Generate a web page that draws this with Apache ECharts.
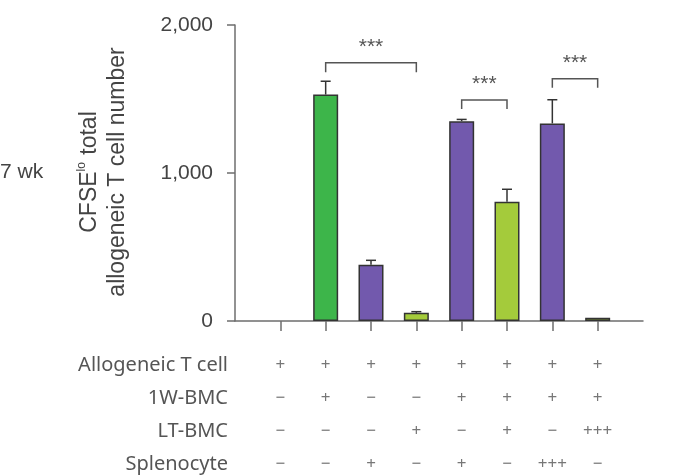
<!DOCTYPE html>
<html>
<head>
<meta charset="utf-8">
<script src="https://cdn.jsdelivr.net/npm/echarts@6/dist/echarts.min.js"></script>
<style>html,body{margin:0;padding:0;background:#fff}#c{width:681px;height:476px}</style>
</head>
<body>
<div id="c"></div>
<script>
// ---- data ----
var groups = ['G1','G2','G3','G4','G5','G6','G7','G8'];
var means  = [0, 1530, 380, 55, 1350, 805, 1335, 22];
var errors = [0, 90, 30, 8, 12, 85, 160, 0];
var barColorKeys = ['none','green','purple','lime','purple','lime','purple','lime'];
var yTicks = [0, 1000, 2000];
// brackets: [from group index, to group index, top value, leg-bottom value]
var brackets = [[1, 3, 1745, 1680], [4, 5, 1493, 1432], [6, 7, 1637, 1576]];
var bracketLabels = ['***', '***', '***'];
var tableRowLabels = ['Allogeneic T cell', '1W-BMC', 'LT-BMC', 'Splenocyte'];
var tableRows = [
  ['+','+','+','+','+','+','+','+'],
  ['−','+','−','−','+','+','+','+'],
  ['−','−','−','+','−','+','−','+++'],
  ['−','−','+','−','+','−','+++','−']
];
var sideLabel = '7 wk';

// ---- styles ----
var palette = {green:'#3db54a', purple:'#7259ad', lime:'#a4cb3b', none:'rgba(0,0,0,0)'};
var axisColor = '#6e6e6e';
var sansH = 'Liberation Sans, Arial, sans-serif';

var cats = [''].concat(groups).concat(['']);
var barData = [null].concat(means.map(function(v,i){
  return {value: v, itemStyle:{color: palette[barColorKeys[i]], borderWidth: v>0?1.5:0}};
})).concat([null]);
var errData = means.map(function(v,i){ return [i+1, v, v+errors[i]]; }).filter(function(d,i){return errors[i]>0;});
var brData = brackets.map(function(b,i){ return [b[0]+1, b[1]+1, b[2], b[3], i]; });

var chart = echarts.init(document.getElementById('c'), null, {renderer:'canvas'});

chart.setOption({
  animation:false,
  backgroundColor:'#fff',
  grid:{left:235, right:38, top:25, bottom:155, containLabel:false},
  xAxis:{
    type:'category', data:cats, boundaryGap:false,
    axisLine:{lineStyle:{color:axisColor, width:1.5}},
    axisTick:{show:true, length:10, lineStyle:{color:axisColor, width:1.5},
      interval:function(i){ return i>0 && i<cats.length-1; }},
    axisLabel:{show:false}, splitLine:{show:false}
  },
  yAxis:{
    type:'value', min:0, max:2000, interval:1000,
    axisLine:{show:true, lineStyle:{color:axisColor, width:1.5}},
    axisTick:{show:true, length:8, lineStyle:{color:axisColor, width:1.5}},
    axisLabel:{margin:22, fontSize:21, color:'#444', fontFamily:sansH,
      formatter:function(v){ return yTicks.indexOf(v)>=0 ? v.toLocaleString('en-US') : ''; }},
    splitLine:{show:false}
  },
  series:[
    {type:'bar', data:barData, barWidth:25, itemStyle:{borderColor:'#333', borderWidth:1.5}, z:2},
    {type:'custom', data:errData, z:1,
      renderItem:function(params, api){
        var x = api.value(0);
        var p0 = api.coord([x, api.value(1)]);
        var p1 = api.coord([x, api.value(2)]);
        var hw = 5;
        return {type:'group', children:[
          {type:'line', shape:{x1:p0[0], y1:p0[1], x2:p1[0], y2:p1[1]}, style:{stroke:'#333', lineWidth:1.5}},
          {type:'line', shape:{x1:p1[0]-hw, y1:p1[1], x2:p1[0]+hw, y2:p1[1]}, style:{stroke:'#333', lineWidth:1.5}}
        ]};
      }
    },
    {type:'custom', data:brData, z:3,
      renderItem:function(params, api){
        var a = api.coord([api.value(0), api.value(2)]);
        var b = api.coord([api.value(1), api.value(2)]);
        var la = api.coord([api.value(0), api.value(3)]);
        var lb = api.coord([api.value(1), api.value(3)]);
        var mid = (a[0]+b[0])/2;
        return {type:'group', children:[
          {type:'polyline', shape:{points:[[la[0],la[1]],[a[0],a[1]],[b[0],b[1]],[lb[0],lb[1]]]}, style:{stroke:'#555', lineWidth:1.5, fill:null}},
          {type:'text', x:mid, y:a[1]-16, style:{text:bracketLabels[api.value(4)], fontSize:21, fill:'#555', align:'center', verticalAlign:'middle', fontFamily:sansH}}
        ]};
      }
    }
  ]
});

var graphics = [];
// y axis title
graphics.push({
  type:'text', x:104, y:172, rotation: Math.PI/2,
  style:{
    text:'CFSE{sup|lo} total\nallogeneic T cell number',
    fontFamily:sansH, fontSize:23, fill:'#444',
    lineHeight:28, align:'center', verticalAlign:'middle',
    rich:{sup:{fontSize:12, verticalAlign:'top', padding:[0,1,12,0], fill:'#444', fontFamily:sansH}}
  }
});
graphics.push({type:'text', x:0, y:172, style:{text:sideLabel, fontFamily:sansH, fontSize:21, fill:'#444', verticalAlign:'middle', align:'left'}});
// table (columns aligned with the bar categories)
var rowY = [365, 398, 431, 464];
tableRowLabels.forEach(function(lbl, r){
  graphics.push({type:'text', x:228, y:rowY[r], style:{text:lbl, fontFamily:'Noto Sans, sans-serif', fontSize:20, fill:'#555', align:'right', verticalAlign:'middle'}});
  tableRows[r].forEach(function(s, c){
    var px = chart.convertToPixel({xAxisIndex:0}, c+1);
    graphics.push({type:'text', x:px, y:rowY[r], style:{text:s, fontFamily:'Noto Sans, sans-serif', fontSize:17, fill:'#777', align:'center', verticalAlign:'middle'}});
  });
});
chart.setOption({graphic:graphics});
</script>
</body>
</html>
